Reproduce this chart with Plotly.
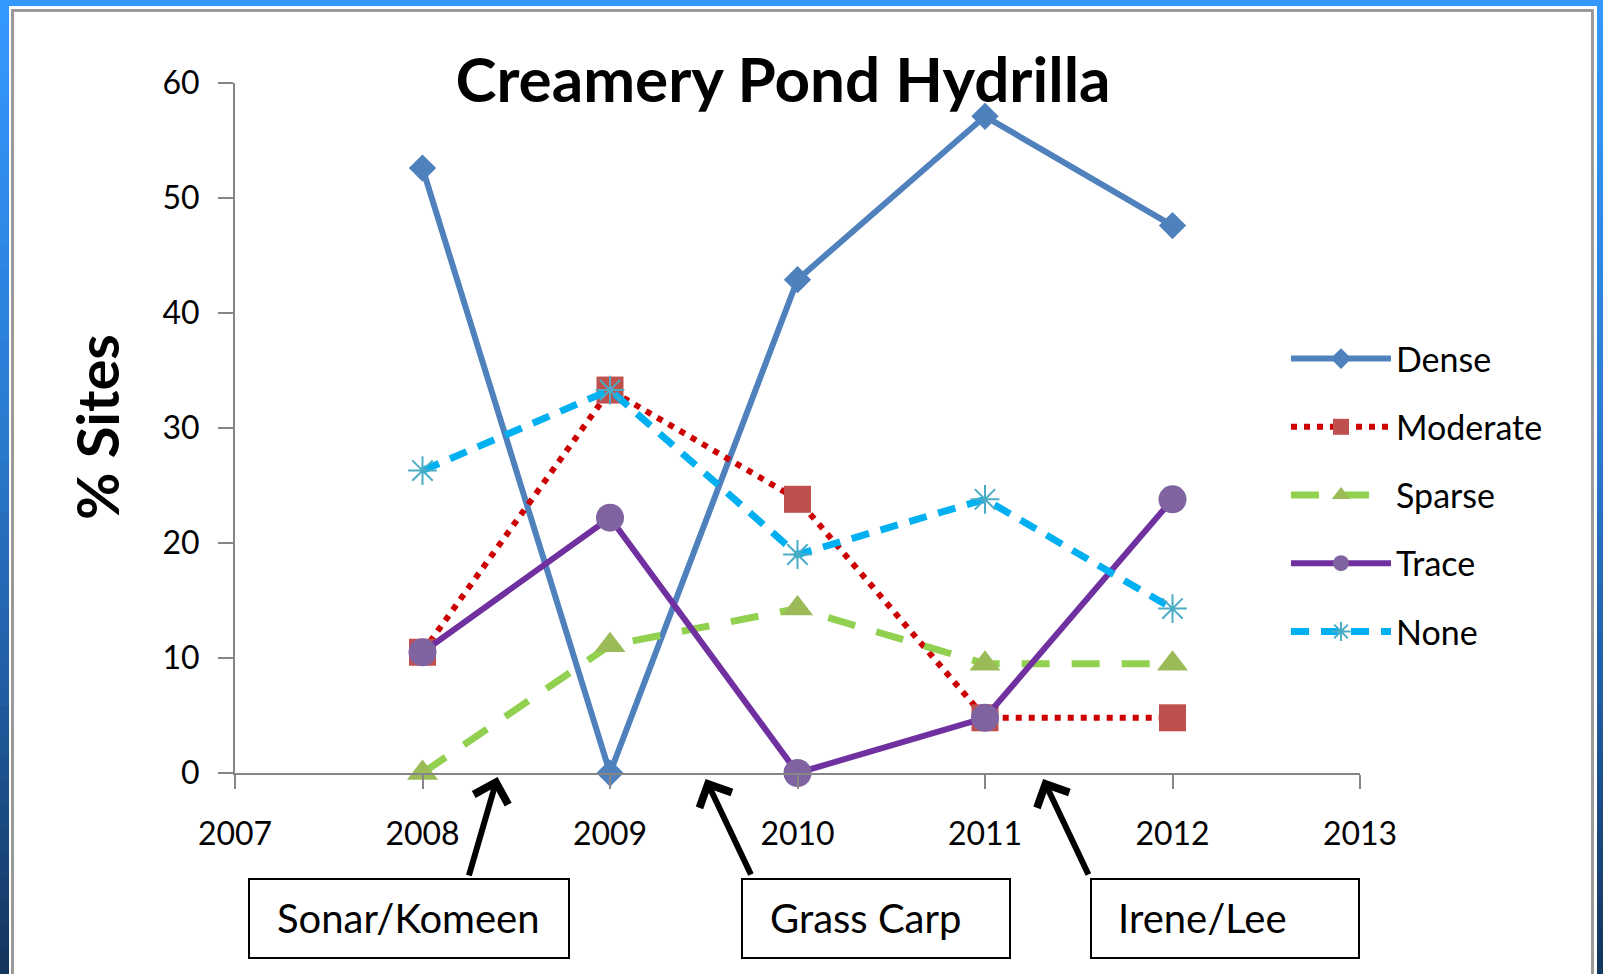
import plotly.graph_objects as go

# ---------------- data ----------------
years = [2008, 2009, 2010, 2011, 2012]
dense = [52.6, 0.0, 42.9, 57.1, 47.6]
moderate = [10.5, 33.3, 23.8, 4.8, 4.8]
sparse = [0.0, 11.1, 14.3, 9.5, 9.5]
trace_vals = [10.5, 22.2, 0.0, 4.8, 23.8]
none_vals = [26.3, 33.3, 19.0, 23.8, 14.3]
series_names = ["Dense", "Moderate", "Sparse", "Trace", "None"]
x_ticks = [2007, 2008, 2009, 2010, 2011, 2012, 2013]
y_ticks = [0, 10, 20, 30, 40, 50, 60]
event_labels = ["Sonar/Komeen", "Grass Carp", "Irene/Lee"]
event_years = [2008.40, 2009.51, 2011.31]

title_text = "Creamery Pond Hydrilla"
y_title = "% Sites"

# ---------------- geometry ----------------
W, H = 1603, 974
X0, X1 = 235, 1360   # pixel of 2007 / 2013
Y0, Y1 = 773, 83     # pixel of 0 / 60
FONT = "Lato"


def xp(px):
    return (px - X0) / (X1 - X0)


def yp(py):
    return (Y0 - py) / (Y0 - Y1)


styles = [
    dict(line=dict(color="#4F81BD", width=6), marker=dict(symbol="diamond", size=21, color="#4F81BD")),
    dict(line=dict(color="#CC0000", width=6, dash="6px,7px"), marker=dict(symbol="square", size=27, color="#C0504D")),
    dict(line=dict(color="#92D050", width=7, dash="28px,22px"), marker=dict(symbol="triangle-up", size=27, color="#9BBB59")),
    dict(line=dict(color="#7030A0", width=6), marker=dict(symbol="circle", size=28, color="#8064A2")),
    dict(line=dict(color="#00B0F0", width=7, dash="18px,12px"),
         marker=dict(symbol="asterisk-open", size=24, color="#4BACC6", line=dict(color="#4BACC6", width=2))),
]
values = [dense, moderate, sparse, trace_vals, none_vals]

fig = go.Figure()
for name, vals, st in zip(series_names, values, styles):
    fig.add_trace(go.Scatter(
        x=years, y=vals, name=name, mode="lines+markers",
        line=st["line"], marker=st["marker"], cliponaxis=False,
        legendgroup=name, hoverinfo="skip",
    ))

shapes = []
# blue slide frame (vertical gradient approximated by bands)
stops = [(0.0, (51, 153, 255)), (0.45, (43, 122, 208)), (0.72, (32, 92, 160)), (1.0, (20, 52, 92))]


def grad(t):
    for (a, ca), (b, cb) in zip(stops[:-1], stops[1:]):
        if a <= t <= b:
            f = (t - a) / (b - a)
            return "rgb(%d,%d,%d)" % tuple(round(ca[k] + (cb[k] - ca[k]) * f) for k in range(3))
    return "rgb(%d,%d,%d)" % stops[-1][1]


N = 40
for k in range(N):
    top = H * k / N
    bot = H * (k + 1) / N + 1
    c = grad((k + 0.5) / N)
    for (l, r) in [(0, 9), (1597, W)]:
        shapes.append(dict(type="rect", xref="paper", yref="paper", layer="below",
                           x0=xp(l), x1=xp(r), y0=yp(bot), y1=yp(top),
                           fillcolor=c, line=dict(width=0)))
shapes.append(dict(type="rect", xref="paper", yref="paper", layer="below",
                   x0=xp(0), x1=xp(W), y0=yp(6), y1=yp(0),
                   fillcolor="rgb(51,153,255)", line=dict(width=0)))
# gray inner frame
shapes.append(dict(type="rect", xref="paper", yref="paper", layer="below",
                   x0=xp(12.5), x1=xp(1592.5), y0=yp(H + 20), y1=yp(10.5),
                   fillcolor="rgba(0,0,0,0)", line=dict(color="#9A9A9A", width=3)))

# event boxes
box_px = [(249, 569), (742, 1010), (1091, 1359)]
for (l, r) in box_px:
    shapes.append(dict(type="rect", xref="paper", yref="paper",
                       x0=xp(l), x1=xp(r), y0=yp(958), y1=yp(879),
                       fillcolor="white", line=dict(color="black", width=2)))

annotations = []
text_left = [275, 768, 1116]
for lab, lx in zip(event_labels, text_left):
    annotations.append(dict(text=lab, xref="paper", yref="paper", x=xp(lx), y=yp(918),
                            xanchor="left", yanchor="middle", showarrow=False,
                            font=dict(family=FONT, size=40, color="black")))

# arrows (tip just below the x axis, tail at the top of each box)
arrow_offsets = [(-29, 100), (46, 97), (46, 97)]
arrow_tip_px = [777, 779, 779]
for yr, ty, (ax, ay) in zip(event_years, arrow_tip_px, arrow_offsets):
    annotations.append(dict(text="", x=yr, y=yp(ty), xref="x", yref="paper", ax=ax, ay=ay,
                            showarrow=True, arrowhead=4, arrowsize=1.15, arrowwidth=6,
                            arrowcolor="black", standoff=0, startstandoff=0))

# y axis title
annotations.append(dict(text="<b>" + y_title + "</b>", xref="paper", yref="paper",
                        x=xp(96), y=yp(427), xanchor="center", yanchor="middle",
                        textangle=-90, showarrow=False,
                        font=dict(family=FONT, size=58, color="black")))

fig.update_layout(
    width=W, height=H,
    margin=dict(l=X0, r=W - X1, t=Y1, b=H - Y0, pad=0),
    paper_bgcolor="white", plot_bgcolor="white",
    title=dict(text="<b>" + title_text + "</b>", x=783 / W, xanchor="center",
               y=1 - 80 / H, yanchor="middle", xref="container", yref="container",
               font=dict(family=FONT, size=62, color="black")),
    xaxis=dict(range=[2007, 2013], tickvals=x_ticks, showgrid=False, zeroline=False,
               showline=True, linecolor="#868686", linewidth=2,
               ticks="outside", ticklen=14, tickwidth=2, tickcolor="#868686",
               ticklabelstandoff=18,
               tickfont=dict(family=FONT, size=32, color="black")),
    yaxis=dict(range=[0, 60], tickvals=y_ticks, showgrid=False, zeroline=False,
               showline=True, linecolor="#868686", linewidth=2,
               ticks="outside", ticklen=15, tickwidth=2, tickcolor="#868686",
               ticklabelstandoff=12,
               tickfont=dict(family=FONT, size=32, color="black")),
    legend=dict(x=xp(1286), xanchor="left", y=yp(330), yanchor="top",
                font=dict(family=FONT, size=34, color="black"),
                itemwidth=100, traceorder="grouped", tracegroupgap=21,
                bgcolor="rgba(0,0,0,0)", borderwidth=0, itemsizing="trace"),
    shapes=shapes,
    annotations=annotations,
    showlegend=True,
)

fig.write_html("out.html", config={"displayModeBar": False},
               post_script="document.body.style.margin='0';document.body.style.overflow='hidden';")
